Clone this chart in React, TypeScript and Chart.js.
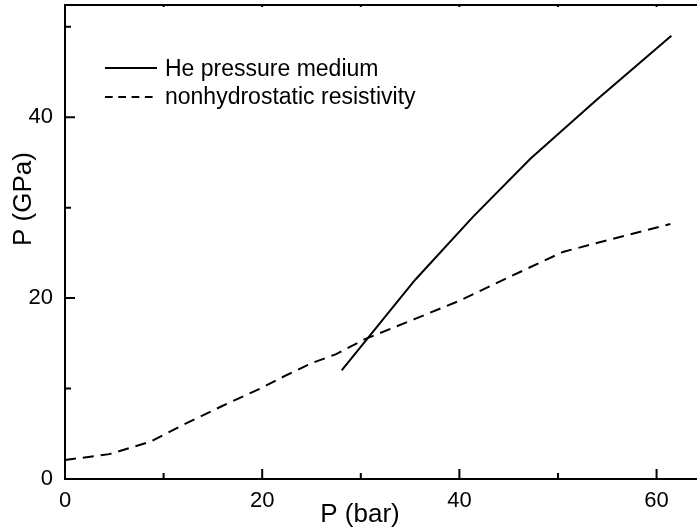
import { useEffect, useRef } from 'react';
import { Chart, registerables } from 'chart.js';

Chart.register(...registerables);

// He pressure medium (solid)
const heX = [28.06, 35.5, 41.4, 47.2, 53.9, 61.5];
const heY = [12.0, 22.0, 29.0, 35.4, 41.9, 49.0];
// nonhydrostatic resistivity (dashed)
const resX = [0, 4.5, 8.6, 12, 16, 20, 22.5, 25, 27.5, 30.3, 35.5, 40, 45, 50.5, 55, 61.4];
const resY = [2.1, 2.75, 4.1, 6.0, 8.1, 10.1, 11.5, 12.8, 13.8, 15.4, 17.7, 19.7, 22.3, 25.1, 26.4, 28.2];

const seriesLabels = ['He pressure medium', 'nonhydrostatic resistivity'];
const xTickLabels = [0, 20, 40, 60];
const yTickLabels = [0, 20, 40];
const xTitle = 'P (bar)';
const yTitle = 'P (GPa)';

const FONT = '"Liberation Sans", Arial, sans-serif';

const framePlugin = {
  id: 'frame',
  afterDraw(chart: any) {
    const { ctx, chartArea } = chart;
    const { left, right, top, bottom } = chartArea;
    const xs = chart.scales.x;
    const ys = chart.scales.y;
    ctx.save();
    ctx.strokeStyle = '#000';
    ctx.lineWidth = 2;
    ctx.lineCap = 'butt';
    ctx.beginPath();
    ctx.moveTo(left, top);
    ctx.lineTo(left, bottom);
    ctx.lineTo(right + 2, bottom);
    ctx.moveTo(left - 1, top);
    ctx.lineTo(right + 2, top);
    ctx.stroke();
    // ticks
    ctx.beginPath();
    for (let v = 0; v <= xs.max; v += 10) {
      const px = xs.getPixelForValue(v);
      const len = v % 20 === 0 ? 10 : 6;
      ctx.moveTo(px, bottom);
      ctx.lineTo(px, bottom - len);
      ctx.moveTo(px, top);
      ctx.lineTo(px, top + 2);
    }
    for (let v = 0; v <= ys.max; v += 10) {
      const py = ys.getPixelForValue(v);
      const len = v % 20 === 0 ? 10 : 6;
      ctx.moveTo(left, py);
      ctx.lineTo(left + len, py);
    }
    ctx.stroke();

    // axis titles
    ctx.fillStyle = '#000';
    ctx.font = `26px ${FONT}`;
    ctx.textAlign = 'center';
    ctx.textBaseline = 'alphabetic';
    ctx.fillText(xTitle, 360, 522);
    ctx.save();
    ctx.translate(31, 199);
    ctx.rotate(-Math.PI / 2);
    ctx.fillText(yTitle, 0, 0);
    ctx.restore();

    // legend
    const rows = [
      { lineY: 68, baseY: 76, dash: [] as number[] },
      { lineY: 97, baseY: 104, dash: [7.7, 5.6] },
    ];
    chart.data.datasets.forEach((ds: any, i: number) => {
      const r = rows[i];
      ctx.beginPath();
      ctx.setLineDash(r.dash);
      ctx.lineWidth = 2;
      ctx.moveTo(105, r.lineY);
      ctx.lineTo(157, r.lineY);
      ctx.stroke();
      ctx.setLineDash([]);
      ctx.font = `23px ${FONT}`;
      ctx.textAlign = 'left';
      ctx.fillText(ds.label, 165, r.baseY);
    });
    ctx.restore();
  },
};

export default function App() {
  const ref = useRef<HTMLCanvasElement | null>(null);
  useEffect(() => {
    if (!ref.current) return;
    const chart = new Chart(ref.current, {
      type: 'line',
      data: {
        datasets: [
          {
            label: seriesLabels[0],
            data: heX.map((x, i) => ({ x, y: heY[i] })),
            borderColor: '#000',
            borderWidth: 2,
            pointRadius: 0,
            fill: false,
            tension: 0,
          },
          {
            label: seriesLabels[1],
            data: resX.map((x, i) => ({ x, y: resY[i] })),
            borderColor: '#000',
            borderWidth: 2,
            borderDash: [11, 7],
            pointRadius: 0,
            fill: false,
            tension: 0,
          },
        ],
      },
      options: {
        responsive: false,
        animation: false,
        devicePixelRatio: 1,
        layout: { padding: { top: 5, right: 0, left: 0, bottom: 0 } },
        plugins: { legend: { display: false }, tooltip: { enabled: false }, title: { display: false } },
        scales: {
          x: {
            type: 'linear',
            min: 0,
            max: 64.1,
            grid: { display: false, drawTicks: false },
            border: { display: false },
            ticks: {
              stepSize: 10,
              autoSkip: false,
              includeBounds: false,
              maxRotation: 0,
              padding: 9,
              color: '#000',
              font: { family: FONT, size: 22 },
              callback: (v: any) => (xTickLabels.includes(Number(v)) ? String(v) : ''),
            },
            afterFit: (s: any) => {
              s.height = 52;
              s.paddingLeft = 0;
              s.paddingRight = 0;
            },
          },
          y: {
            type: 'linear',
            min: 0,
            max: 52.4,
            grid: { display: false, drawTicks: false },
            border: { display: false },
            ticks: {
              stepSize: 10,
              autoSkip: false,
              includeBounds: false,
              padding: 12,
              color: '#000',
              font: { family: FONT, size: 22 },
              callback: (v: any) => (yTickLabels.includes(Number(v)) ? String(v) : ''),
            },
            afterFit: (s: any) => {
              s.width = 65;
              s.paddingTop = 0;
              s.paddingBottom = 0;
            },
          },
        },
      },
      plugins: [framePlugin],
    });
    return () => chart.destroy();
  }, []);
  return (
    <div style={{ position: 'absolute', left: 0, top: 0, width: 697, height: 531, background: '#fff' }}>
      <canvas ref={ref} width={697} height={531} style={{ display: 'block' }} />
    </div>
  );
}
